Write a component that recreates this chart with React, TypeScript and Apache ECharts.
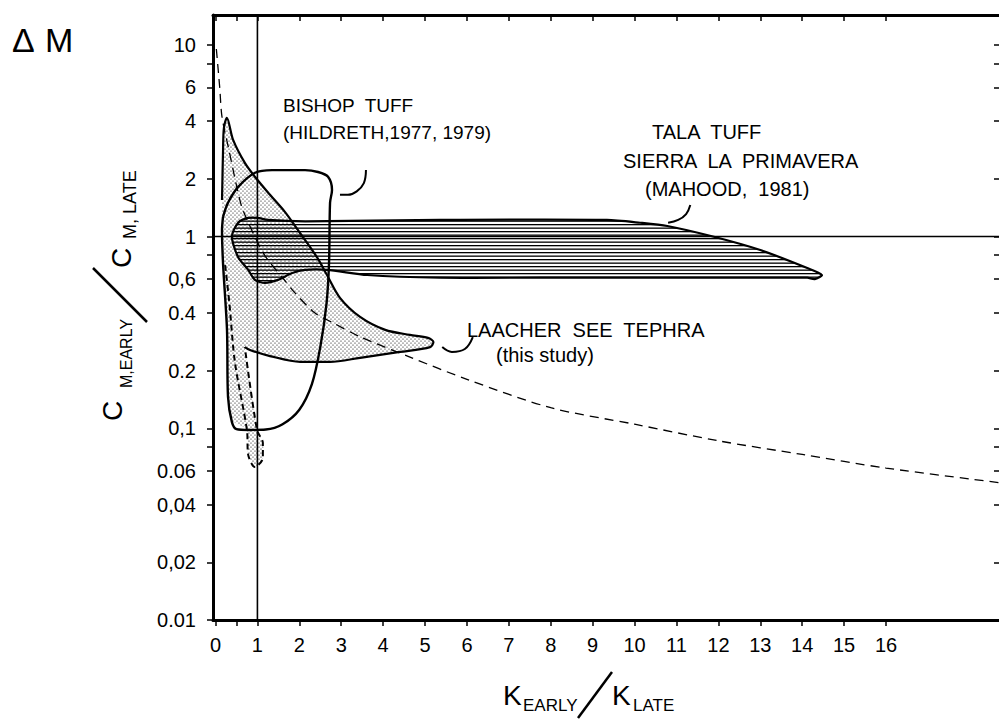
import React, { useEffect, useRef } from 'react';
import * as echarts from 'echarts';

// ---- axis ranges ----
const X_MIN = -0.06;
const X_MAX = 18.72;
const Y_MIN = 0.01;
const Y_MAX = 14.3;

// ---- tick labels ----
const xLabelValues = [0, 1, 2, 3, 4, 5, 6, 7, 8, 9, 10, 11, 12, 13, 14, 15, 16];
const xTickValues = [0, 0.5, 1, 2, 3, 4, 5, 6, 7, 8, 9, 10, 11, 12, 13, 14, 15, 16];
const yTickValues = [0.01, 0.02, 0.04, 0.06, 0.08, 0.1, 0.2, 0.4, 0.6, 0.8, 1, 2, 4, 6, 8, 10];
const yLabelValues = [0.01, 0.02, 0.04, 0.06, 0.1, 0.2, 0.4, 0.6, 1, 2, 4, 6, 10];
const yLabelTexts = ['0.01', '0,02', '0,04', '0.06', '0,1', '0.2', '0.4', '0,6', '1', '2', '4', '6', '10'];

// ---- Tala Tuff, Sierra La Primavera (Mahood 1981) : hatched field ----
const talaK = [0.39, 0.54, 0.78, 1.01, 1.25, 2.14, 5.36, 9.34, 10.13, 10.78, 11.87, 13.0, 14.12, 14.47, 14.3, 14.12, 7.75, 5.36, 3.62, 2.66, 2.14, 1.83, 1.49, 1.18, 0.94, 0.78, 0.54];
const talaM = [1.0, 1.18, 1.25, 1.25, 1.22, 1.2, 1.22, 1.22, 1.18, 1.135, 1.0, 0.85, 0.685, 0.63, 0.6, 0.61, 0.61, 0.61, 0.63, 0.67, 0.67, 0.645, 0.594, 0.573, 0.594, 0.67, 0.78];

// ---- Laacher See Tephra (this study) : stippled field ----
const lsK = [0.27, 0.42, 0.7, 0.94, 1.3, 1.66, 2.02, 2.42, 2.66, 2.97, 3.45, 4.05, 4.64, 5.07, 5.2,
  5.12, 4.4, 3.45, 2.73, 2.02, 1.3, 0.82, 0.7,
  0.82, 0.99, 1.13, 1.13, 0.94, 0.78, 0.75,
  0.39, 0.3, 0.27, 0.18, 0.155, 0.155, 0.18, 0.2];
const lsM = [4.16, 3.19, 2.42, 2.05, 1.65, 1.34, 1.04, 0.78, 0.63, 0.479, 0.381, 0.326, 0.307, 0.296, 0.282,
  0.265, 0.25, 0.233, 0.222, 0.222, 0.238, 0.256, 0.265,
  0.179, 0.098, 0.0837, 0.07, 0.0628, 0.0727, 0.098,
  0.11, 0.146, 0.33, 0.73, 1.08, 1.55, 2.83, 3.68];
// dashed lower tail of the Laacher See field
const lsTailK = [0.23, 0.33, 0.465, 0.75, 0.78, 0.94, 1.13, 1.13, 0.99, 0.7];
const lsTailM = [0.71, 0.45, 0.219, 0.098, 0.0727, 0.0628, 0.07, 0.0837, 0.098, 0.265];

// ---- Bishop Tuff (Hildreth 1977, 1979) : outline ----
const bishopK = [0.179, 0.298, 0.537, 0.943, 1.348, 2.136, 2.446, 2.685, 2.78, 2.733, 2.709, 2.65, 2.5, 2.3, 2.0, 1.6, 1.2, 0.8, 0.5, 0.39, 0.298, 0.274, 0.179, 0.155, 0.179];
const bishopM = [1.265, 1.5, 1.81, 2.15, 2.22, 2.22, 2.17, 2.05, 1.75, 1.5, 0.727, 0.45, 0.265, 0.17, 0.125, 0.105, 0.0985, 0.098, 0.099, 0.108, 0.146, 0.326, 0.727, 1.08, 1.265];

// ---- Delta M dashed curve ----
const dmK = [0.02, 0.1, 0.155, 0.32, 0.537, 0.656, 1.062, 1.25, 1.587, 1.897, 2.375, 2.8, 3.45, 4.64, 6.0, 8.0, 10.0, 12.0, 14.0, 16.0, 18.72];
const dmM = [9.5, 6.0, 4.2, 2.83, 1.7, 1.37, 0.88, 0.755, 0.615, 0.508, 0.399, 0.355, 0.3, 0.235, 0.18, 0.128, 0.105, 0.086, 0.073, 0.062, 0.052];

// ---- label pointers ----
const bishopArrowK = [3.59, 3.54, 3.37, 3.16, 2.97];
const bishopArrowM = [2.22, 1.9, 1.72, 1.65, 1.65];
const talaArrowK = [11.33, 11.23, 11.04, 10.8];
const talaArrowM = [1.46, 1.31, 1.22, 1.18];
const lsArrowK = [6.14, 5.95, 5.64, 5.41];
const lsArrowM = [0.299, 0.259, 0.25, 0.265];

const FONT = 'Liberation Sans';

function pairs(k: number[], m: number[]) {
  return k.map((v, i) => [v, m[i]]);
}

function svgUrl(svg: string) {
  return 'data:image/svg+xml;charset=utf-8,' + encodeURIComponent(svg);
}

const hatchPattern = {
  image: svgUrl("<svg xmlns='http://www.w3.org/2000/svg' width='10' height='7'><rect x='0' y='0' width='10' height='1.3' fill='#000'/><rect x='0' y='3.5' width='10' height='1.3' fill='#000'/></svg>"),
  repeat: 'repeat',
  imageWidth: 10,
  imageHeight: 7,
};
const stipplePattern = {
  image: svgUrl("<svg xmlns='http://www.w3.org/2000/svg' width='4' height='4'><circle cx='1' cy='1' r='0.62' fill='#000'/><circle cx='3' cy='3' r='0.62' fill='#000'/></svg>"),
  repeat: 'repeat',
  imageWidth: 4,
  imageHeight: 4,
};

function txt(text: string, x: number, y: number, size: number, family = FONT) {
  return {
    type: 'text',
    x,
    y,
    silent: true,
    style: {
      text,
      fill: '#000',
      font: `${size}px "${family}"`,
      fontSize: size,
      fontFamily: family,
      align: 'left',
      verticalAlign: 'middle',
      textAlign: 'left',
      textVerticalAlign: 'middle',
    },
  };
}

export default function App() {
  const ref = useRef<HTMLDivElement>(null);
  useEffect(() => {
    const chart = echarts.init(ref.current as HTMLDivElement, null, { renderer: 'svg' });
    const lg = (v: number) => Math.log10(v);
    const yLabelFmt = (v: number) => {
      for (let i = 0; i < yLabelValues.length; i++) {
        if (Math.abs(lg(yLabelValues[i]) - v) < 1e-6) return yLabelTexts[i];
      }
      return '';
    };
    const axisLineStyle = { color: '#000', width: 3 };
    const tickStyle = { color: '#000', width: 1.5 };

    const lsSolidIdx = [35, 36, 37, ...Array.from({ length: 23 }, (_, i) => i)];
    const lsSolid = lsSolidIdx.map((i) => [lsK[i], lsM[i]]);

    const polygonSeries = (k: number[], m: number[], fill: any, stroke: string, lw: number, z: number) => ({
      type: 'custom',
      coordinateSystem: 'cartesian2d',
      xAxisIndex: 0,
      yAxisIndex: 0,
      silent: true,
      z,
      data: [[k[0], m[0]]],
      renderItem: (_params: any, api: any) => ({
        type: 'polygon',
        shape: { points: k.map((v, i) => api.coord([v, m[i]])), smooth: 0.25 },
        style: { fill, stroke, lineWidth: lw },
      }),
    });

    const lineSeries = (data: number[][], width: number, type: any, smooth: number, z: number) => ({
      type: 'line',
      xAxisIndex: 0,
      yAxisIndex: 0,
      data,
      showSymbol: false,
      symbol: 'none',
      silent: true,
      smooth,
      z,
      lineStyle: { color: '#000', width, type },
    });

    const option: any = {
      animation: false,
      backgroundColor: '#fff',
      grid: { left: 213, right: -1, top: 15, bottom: 102, containLabel: false, outerBoundsMode: 'none' },
      xAxis: [
        {
          type: 'value', min: X_MIN, max: X_MAX, position: 'bottom',
          axisLine: { show: true, onZero: false, lineStyle: axisLineStyle },
          axisTick: { show: true, inside: false, length: 6, customValues: xTickValues, lineStyle: tickStyle },
          axisLabel: { show: true, customValues: xLabelValues, margin: 15, color: '#000', fontSize: 20, fontFamily: FONT, formatter: (v: number) => String(v) },
          splitLine: { show: false },
        },
        {
          type: 'value', min: X_MIN, max: X_MAX, position: 'top',
          axisLine: { show: true, onZero: false, lineStyle: axisLineStyle },
          axisTick: { show: true, inside: true, length: 6, customValues: xTickValues, lineStyle: tickStyle },
          axisLabel: { show: false },
          splitLine: { show: false },
        },
      ],
      yAxis: [
        { type: 'log', logBase: 10, min: Y_MIN, max: Y_MAX, show: false, splitLine: { show: false } },
        {
          type: 'value', min: lg(Y_MIN), max: lg(Y_MAX), position: 'left',
          axisLine: { show: true, onZero: false, lineStyle: axisLineStyle },
          axisTick: { show: true, inside: false, length: 6, customValues: yTickValues.map(lg), lineStyle: tickStyle },
          axisLabel: { show: true, customValues: yLabelValues.map(lg), margin: 17, color: '#000', fontSize: 20, fontFamily: FONT, formatter: yLabelFmt },
          splitLine: { show: false },
        },
        {
          type: 'value', min: lg(Y_MIN), max: lg(Y_MAX), position: 'right',
          axisLine: { show: true, onZero: false, lineStyle: axisLineStyle },
          axisTick: { show: true, inside: true, length: 6, customValues: yTickValues.map(lg), lineStyle: tickStyle },
          axisLabel: { show: false },
          splitLine: { show: false },
        },
      ],
      series: [
        // reference lines K=1 and dM=1
        lineSeries([[1, Y_MIN], [1, Y_MAX]], 1.6, 'solid', 0, 2),
        lineSeries([[X_MIN, 1], [X_MAX, 1]], 1.6, 'solid', 0, 2),
        // fields
        polygonSeries(lsK, lsM, stipplePattern, 'none', 0, 3),
        polygonSeries(talaK, talaM, hatchPattern, '#000', 2.2, 4),
        lineSeries(lsSolid, 2.2, 'solid', 0.3, 5),
        lineSeries(pairs(lsTailK, lsTailM), 2, [6, 4], 0.3, 5),
        lineSeries(pairs(bishopK, bishopM), 2.4, 'solid', 0.3, 5),
        lineSeries(pairs(dmK, dmM), 1.3, [9, 6], 0.3, 5),
        lineSeries(pairs(bishopArrowK, bishopArrowM), 2, 'solid', 0.4, 5),
        lineSeries(pairs(talaArrowK, talaArrowM), 2, 'solid', 0.4, 5),
        lineSeries(pairs(lsArrowK, lsArrowM), 2, 'solid', 0.4, 5),
      ],
      graphic: [
        txt('Δ', 12, 40, 34),
        txt('M', 45, 40, 34),
        // y-axis title (rotated)
        {
          type: 'group', x: 0, y: 0, rotation: Math.PI / 2, silent: true,
          children: [
            txt('C', -421, 112, 28),
            txt('M,EARLY', -388, 126, 16),
            txt('C', -268, 121, 28),
            txt('M, LATE', -239, 130, 18),
          ],
        },
        { type: 'line', silent: true, shape: { x1: 93, y1: 268, x2: 147, y2: 322 }, style: { stroke: '#000', lineWidth: 2.5 } },
        // x-axis title
        txt('K', 503, 695, 28),
        txt('EARLY', 523, 705, 17),
        { type: 'line', silent: true, shape: { x1: 578, y1: 718, x2: 612, y2: 672 }, style: { stroke: '#000', lineWidth: 2.5 } },
        txt('K', 612, 695, 28),
        txt('LATE', 633, 705, 17),
        // annotations
        txt('BISHOP  TUFF', 283, 105, 19),
        txt('(HILDRETH,1977, 1979)', 283, 132, 19),
        txt('TALA  TUFF', 652, 132, 20),
        txt('SIERRA  LA  PRIMAVERA', 623, 161, 20),
        txt('(MAHOOD,  1981)', 645, 189, 20),
        txt('LAACHER  SEE  TEPHRA', 467, 330, 20),
        txt('(this study)', 496, 355, 20),
      ],
    };
    chart.setOption(option);
    return () => chart.dispose();
  }, []);
  return (
    <div
      ref={ref}
      style={{ position: 'fixed', left: 0, top: 0, width: 999, height: 722, background: '#fff' }}
    />
  );
}
